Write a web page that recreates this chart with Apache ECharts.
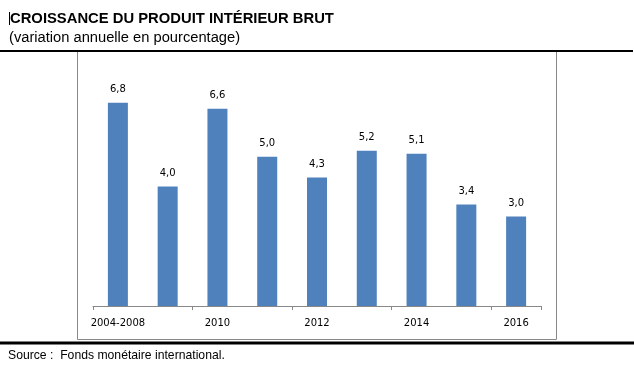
<!DOCTYPE html>
<html><head><meta charset="utf-8">
<script src="https://cdn.jsdelivr.net/npm/echarts@6/dist/echarts.min.js"></script>
<style>html,body{margin:0;padding:0;background:#fff}#c{width:634px;height:365px}</style>
</head><body><div id="c"></div>
<script>
const categories = ['2004-2008','2009','2010','2011','2012','2013','2014','2015','2016'];
const growth = [6.8, 4.0, 6.6, 5.0, 4.3, 5.2, 5.1, 3.4, 3.0];
const titleText = 'CROISSANCE DU PRODUIT INTÉRIEUR BRUT';
const subtitleText = '(variation annuelle en pourcentage)';
const sourceText = 'Source :  Fonds monétaire international.';

const chart = echarts.init(document.getElementById('c'));
chart.setOption({
  animation: false,
  title: [
    {text: titleText, left: 10, top: 11, padding: 0, textStyle: {fontFamily: 'Liberation Sans', fontSize: 14.8, fontWeight: 'bold', color: '#000'}},
    {text: subtitleText, left: 9, top: 30, padding: 0, textStyle: {fontFamily: 'Liberation Sans', fontSize: 14.7, fontWeight: 'normal', color: '#000'}},
    {text: sourceText, left: 8, top: 350, padding: 0, textStyle: {fontFamily: 'Liberation Sans', fontSize: 12.2, fontWeight: 'normal', color: '#000'}}
  ],
  graphic: [
    {type: 'rect', shape: {x: 77.5, y: 51.5, width: 479, height: 288}, style: {fill: 'none', stroke: '#888', lineWidth: 1}, z: -1},
    {type: 'line', shape: {x1: 0, y1: 51, x2: 633, y2: 51}, style: {stroke: '#000', lineWidth: 2}},
    {type: 'line', shape: {x1: 0, y1: 343, x2: 634, y2: 343}, style: {stroke: '#000', lineWidth: 3}},
    {type: 'line', shape: {x1: 9.5, y1: 12, x2: 9.5, y2: 25}, style: {stroke: '#000', lineWidth: 1}}
  ],
  grid: {left: 93, right: 93, top: 67, bottom: 59},
  xAxis: {
    type: 'category', data: categories,
    axisLine: {lineStyle: {color: '#888', width: 1}},
    axisTick: {show: true, interval: 1, length: 4, lineStyle: {color: '#888'}},
    axisLabel: {interval: 1, margin: 12, fontFamily: 'DejaVu Sans', fontSize: 10, color: '#000'}
  },
  yAxis: {type: 'value', min: 0, max: 8, show: false, splitLine: {show: false}},
  series: [{
    type: 'bar', data: growth, barWidth: 20,
    itemStyle: {color: '#4F81BD'},
    label: {show: true, position: 'top', distance: 8, fontFamily: 'DejaVu Sans', fontSize: 10, color: '#000',
      formatter: p => p.value.toFixed(1).replace('.', ',')}
  }]
});
</script></body></html>
